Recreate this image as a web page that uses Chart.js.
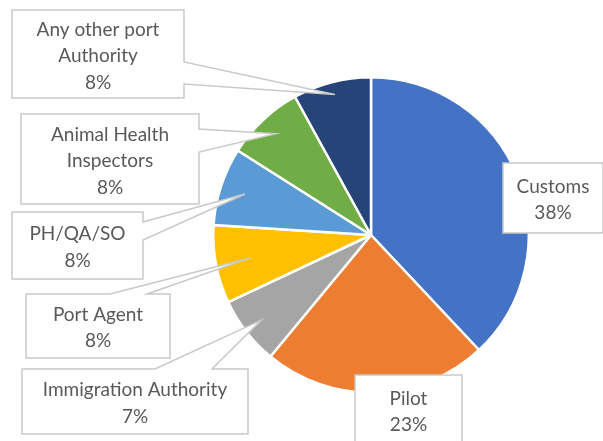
<!DOCTYPE html>
<html>
<head>
<meta charset="utf-8">
<script src="https://cdn.jsdelivr.net/npm/chart.js@4"></script>
<style>
  body { margin: 0; background: #fff; }
  canvas { display: block; }
</style>
</head>
<body>
<canvas id="pieChart" width="603" height="441"></canvas>
<script>
// Chart data
const categories = [
  ['Customs'],
  ['Pilot'],
  ['Immigration Authority'],
  ['Port Agent'],
  ['PH/QA/SO'],
  ['Animal Health', 'Inspectors'],
  ['Any other port', 'Authority']
];
const shares = [38, 23, 7, 8, 8, 8, 8];
const sliceColors = ['#4472C4', '#ED7D31', '#A5A5A5', '#FFC000', '#5B9BD5', '#70AD47', '#264478'];

// label boxes (x, y, w, h) and the callout pointer, same order as categories
const boxes = [
  { x: 503, y: 163, w: 100, h: 70 },
  { x: 355, y: 375, w: 107, h: 70 },
  { x: 22, y: 369, w: 226, h: 65, side: 'top', p0: 155, p1: 212, f: 0.88 },
  { x: 26, y: 294, w: 144, h: 64, side: 'top', p0: 110, p1: 147, f: 0.78 },
  { x: 12, y: 212, w: 131, h: 67, side: 'right', p0: 222, p1: 240, f: 0.84 },
  { x: 21, y: 114, w: 178, h: 90, side: 'right', p0: 129, p1: 152, f: 0.88 },
  { x: 12, y: 10, w: 172, h: 88, side: 'right', p0: 62, p1: 84, f: 0.92 }
];

const calloutPlugin = {
  id: 'callouts',
  afterDatasetsDraw(chart) {
    const c = chart.ctx;
    const arcs = chart.getDatasetMeta(0).data;
    const total = shares.reduce((a, b) => a + b, 0);
    c.save();
    arcs.forEach((arc, i) => {
      const b = boxes[i];
      const mid = (arc.startAngle + arc.endAngle) / 2;
      c.beginPath();
      c.moveTo(b.x, b.y);
      if (b.side) {
        const r = arc.outerRadius * b.f;
        const tx = arc.x + Math.cos(mid) * r;
        const ty = arc.y + Math.sin(mid) * r;
        if (b.side === 'top') {
          c.lineTo(b.p0, b.y);
          c.lineTo(tx, ty);
          c.lineTo(b.p1, b.y);
          c.lineTo(b.x + b.w, b.y);
          c.lineTo(b.x + b.w, b.y + b.h);
        } else {
          c.lineTo(b.x + b.w, b.y);
          c.lineTo(b.x + b.w, b.p0);
          c.lineTo(tx, ty);
          c.lineTo(b.x + b.w, b.p1);
          c.lineTo(b.x + b.w, b.y + b.h);
        }
      } else {
        c.lineTo(b.x + b.w, b.y);
        c.lineTo(b.x + b.w, b.y + b.h);
      }
      c.lineTo(b.x, b.y + b.h);
      c.closePath();
      c.fillStyle = '#ffffff';
      c.fill();
      c.strokeStyle = '#C9C9C9';
      c.lineWidth = 1.5;
      c.stroke();

      // text
      const lines = categories[i].concat([Math.round(shares[i] / total * 100) + '%']);
      c.fillStyle = '#595959';
      c.font = '19px Lato';
      c.textAlign = 'center';
      c.textBaseline = 'middle';
      const cx = b.x + b.w / 2;
      const cy = b.y + b.h / 2 + 2;
      const lh = 26.5;
      lines.forEach((t, k) => {
        c.fillText(t, cx, cy + (k - (lines.length - 1) / 2) * lh);
      });
    });
    c.restore();
  }
};

new Chart(document.getElementById('pieChart').getContext('2d'), {
  type: 'pie',
  data: {
    labels: categories,
    datasets: [{
      data: shares,
      backgroundColor: sliceColors,
      borderColor: '#ffffff',
      borderWidth: 2.5
    }]
  },
  options: {
    responsive: false,
    animation: false,
    layout: { padding: { left: 212, right: 73, top: 76, bottom: 47 } },
    plugins: {
      legend: { display: false },
      tooltip: { enabled: false }
    }
  },
  plugins: [calloutPlugin]
});
</script>
</body>
</html>
